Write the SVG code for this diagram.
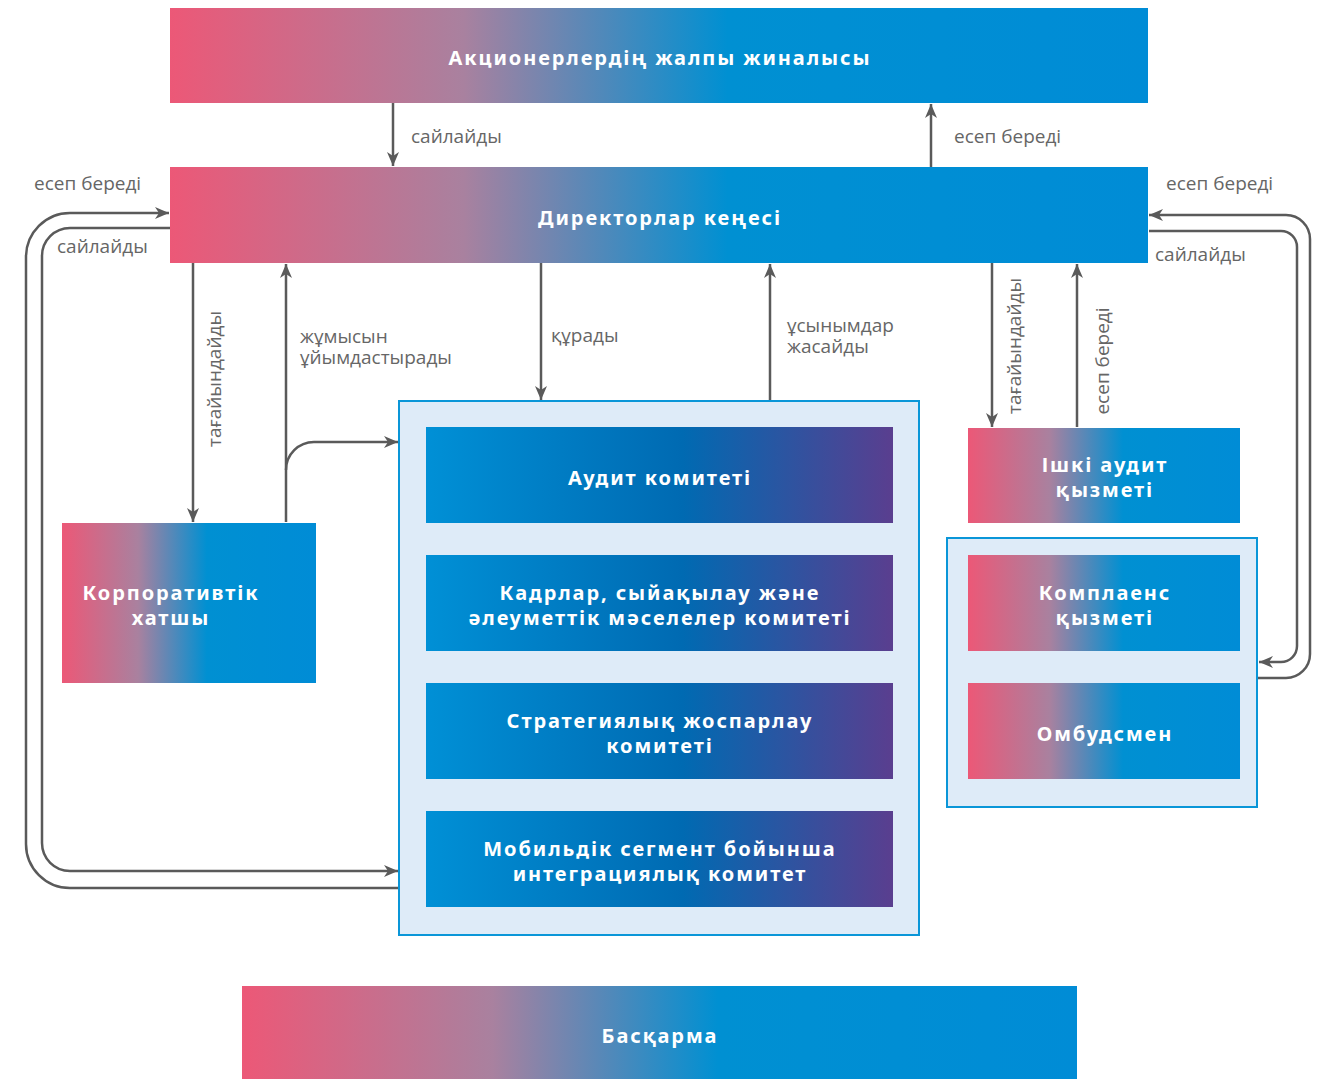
<svg xmlns="http://www.w3.org/2000/svg" width="1319" height="1079" viewBox="0 0 1319 1079">
  <defs>
    <linearGradient id="gPB" x1="0" y1="0" x2="1" y2="0">
      <stop offset="0" stop-color="#EC5877"/>
      <stop offset="0.3" stop-color="#A9819F"/>
      <stop offset="0.57" stop-color="#0090D2"/>
      <stop offset="1" stop-color="#008CD6"/>
    </linearGradient>
    <linearGradient id="gBP" x1="0" y1="0" x2="1" y2="0">
      <stop offset="0" stop-color="#0090D6"/>
      <stop offset="0.55" stop-color="#006AB2"/>
      <stop offset="1" stop-color="#5A3E8F"/>
    </linearGradient>
    <marker id="arr" viewBox="0 0 14 12" refX="14" refY="6" markerWidth="14" markerHeight="12" orient="auto" markerUnits="userSpaceOnUse">
      <path d="M0,0 L14,6 L0,12 L4,6 Z" fill="#5A5A5A"/>
    </marker>
  </defs>
  <style>
    .pb { fill: url(#gPB); }
    .bp { fill: url(#gBP); }
    .cont { fill: #DEEBF8; stroke: #0A96D8; stroke-width: 2; }
    .t { font-family: "Noto Sans", "Open Sans", sans-serif; font-weight: 700; font-size: 20px; letter-spacing: 1.9px; fill: #FFFFFF; text-anchor: middle; }
    .l { font-family: "Open Sans", "Noto Sans", sans-serif; font-size: 19px; fill: #666666; }
    .c { fill: none; stroke: #5A5A5A; stroke-width: 2.5; }
    .a { marker-end: url(#arr); }
  </style>
  <rect width="1319" height="1079" fill="#FFFFFF"/>

  <g id="connectors">
    <path class="c a" d="M393,103 V166"/>
    <path class="c a" d="M931,167 V104"/>
    <path class="c a" d="M399,888 H70 A44,44 0 0 1 26,844 V257 A44,44 0 0 1 70,213 H169"/>
    <path class="c a" d="M170,228 H70 A28,28 0 0 0 42,256 V843 A28,28 0 0 0 70,871 H398"/>
    <path class="c a" d="M1149,231 H1281 A16,16 0 0 1 1297,247 V646 A16,16 0 0 1 1281,662 H1259"/>
    <path class="c a" d="M1258,678 H1286 A24,24 0 0 0 1310,654 V239 A24,24 0 0 0 1286,215 H1149"/>
    <path class="c a" d="M193,263 V522"/>
    <path class="c a" d="M286,522 V264"/>
    <path class="c a" d="M286,470 A28,28 0 0 1 314,442 H398"/>
    <path class="c a" d="M541,263 V400"/>
    <path class="c a" d="M770,401 V264"/>
    <path class="c a" d="M992,263 V427"/>
    <path class="c a" d="M1077,427 V264"/>

    <text class="l" x="411" y="143">сайлайды</text>
    <text class="l" x="954" y="143">есеп береді</text>
    <text class="l" x="34" y="190">есеп береді</text>
    <text class="l" x="57" y="253">сайлайды</text>
    <text class="l" x="1166" y="190">есеп береді</text>
    <text class="l" x="1155" y="261">сайлайды</text>
    <text class="l" x="300" y="343">жұмысын<tspan x="300" dy="21">ұйымдастырады</tspan></text>
    <text class="l" x="551" y="342">құрады</text>
    <text class="l" x="787" y="332">ұсынымдар<tspan x="787" dy="21">жасайды</tspan></text>
    <text class="l" transform="translate(221,379) rotate(-90)" text-anchor="middle">тағайындайды</text>
    <text class="l" transform="translate(1021,346) rotate(-90)" text-anchor="middle">тағайындайды</text>
    <text class="l" transform="translate(1109,361) rotate(-90)" text-anchor="middle">есеп береді</text>
  </g>

  <g id="node-shareholders">
    <rect class="pb" x="170" y="8" width="978" height="95"/>
    <text class="t" x="660" y="65">Акционерлердің жалпы жиналысы</text>
  </g>
  <g id="node-board">
    <rect class="pb" x="170" y="167" width="978" height="96"/>
    <text class="t" x="660" y="225">Директорлар кеңесі</text>
  </g>
  <g id="node-secretary">
    <rect class="pb" x="62" y="523" width="254" height="160"/>
    <text class="t" x="171" y="600">Корпоративтік<tspan x="171" dy="25">хатшы</tspan></text>
  </g>
  <g id="node-committees">
    <rect class="cont" x="399" y="401" width="520" height="534"/>
  </g>
  <g id="node-audit-committee">
    <rect class="bp" x="426" y="427" width="467" height="96"/>
    <text class="t" x="660" y="485">Аудит комитеті</text>
  </g>
  <g id="node-hr-committee">
    <rect class="bp" x="426" y="555" width="467" height="96"/>
    <text class="t" x="660" y="600">Кадрлар, сыйақылау және<tspan x="660" dy="25">әлеуметтік мәселелер комитеті</tspan></text>
  </g>
  <g id="node-strategy-committee">
    <rect class="bp" x="426" y="683" width="467" height="96"/>
    <text class="t" x="660" y="728">Стратегиялық жоспарлау<tspan x="660" dy="25">комитеті</tspan></text>
  </g>
  <g id="node-mobile-committee">
    <rect class="bp" x="426" y="811" width="467" height="96"/>
    <text class="t" x="660" y="856">Мобильдік сегмент бойынша<tspan x="660" dy="25">интеграциялық комитет</tspan></text>
  </g>
  <g id="node-internal-audit">
    <rect class="pb" x="968" y="428" width="272" height="95"/>
    <text class="t" x="1105" y="472">Ішкі аудит<tspan x="1105" dy="25">қызметі</tspan></text>
  </g>
  <g id="node-compliance-group">
    <rect class="cont" x="947" y="538" width="310" height="269"/>
  </g>
  <g id="node-compliance">
    <rect class="pb" x="968" y="555" width="272" height="96"/>
    <text class="t" x="1105" y="600">Комплаенс<tspan x="1105" dy="25">қызметі</tspan></text>
  </g>
  <g id="node-ombudsman">
    <rect class="pb" x="968" y="683" width="272" height="96"/>
    <text class="t" x="1105" y="741">Омбудсмен</text>
  </g>
  <g id="node-management">
    <rect class="pb" x="242" y="986" width="835" height="93"/>
    <text class="t" x="660" y="1043">Басқарма</text>
  </g>
</svg>
